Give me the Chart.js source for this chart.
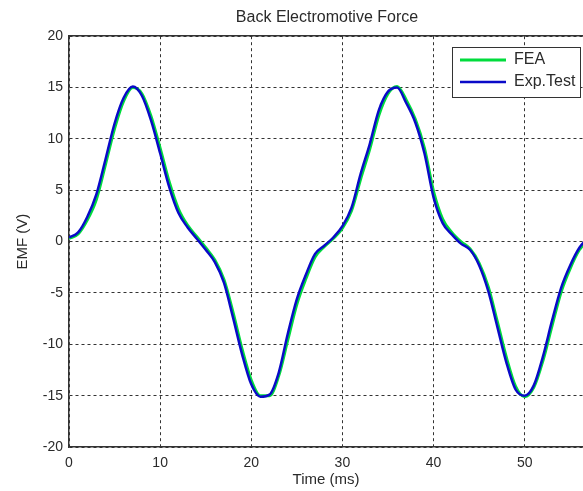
<!DOCTYPE html>
<html>
<head>
<meta charset="utf-8">
<script src="https://cdn.jsdelivr.net/npm/chart.js@4/dist/chart.umd.min.js"></script>
<style>
  html, body { margin: 0; padding: 0; background: #fff; }
  #wrap { width: 583px; height: 491px; }
</style>
</head>
<body>
<div id="wrap"><canvas id="emf-chart"></canvas></div>
<script>
// time axis (ms) and the two traces
const time = [0, 1, 2, 3, 4, 5, 6, 7, 8, 9, 10, 11, 12, 13, 14, 15, 16, 17, 18, 19,
  20, 21, 22, 23, 24, 25, 26, 27, 28, 29, 30, 31, 32, 33, 34, 35, 36, 37, 38, 39,
  40, 41, 42, 43, 44, 45, 46, 47, 48, 49, 50, 51, 52, 53, 54, 55, 56, 57];
const expTest = [0.4, 0.9, 2.4, 4.6, 8.0, 11.5, 14.0, 15.1, 14.2, 11.8, 8.6, 5.3, 2.8, 1.4, 0.3, -0.8, -2.0, -4.0, -7.4, -11.0,
  -13.9, -15.1, -14.9, -12.8, -9.0, -5.6, -3.2, -1.2, -0.4, 0.4, 1.5, 3.3, 6.6, 9.5, 12.8, 14.6, 15.0, 13.5, 11.6, 8.6,
  4.3, 1.8, 0.7, -0.2, -0.8, -2.3, -4.8, -8.3, -11.8, -14.4, -15.0, -14.0, -11.2, -7.7, -4.5, -2.3, -0.6, 0.4];
const fea = [0.3, 0.75, 2.1, 4.1, 7.5, 11.0, 13.7, 15.0, 14.4, 12.2, 9.1, 5.8, 3.2, 1.6, 0.5, -0.6, -1.8, -3.7, -6.9, -10.5,
  -13.5, -15.0, -15.0, -13.1, -9.6, -6.1, -3.6, -1.5, -0.5, 0.3, 1.3, 3.0, 6.1, 9.0, 12.3, 14.4, 15.1, 13.8, 11.9, 9.1,
  4.9, 2.2, 0.9, 0.0, -0.7, -2.1, -4.4, -7.8, -11.3, -14.1, -15.1, -14.2, -11.6, -8.2, -4.9, -2.6, -0.8, 0.2];
const seriesNames = ['FEA', 'Exp.Test'];
const xTicks = [0, 10, 20, 30, 40, 50];
const yTicks = [-20, -15, -10, -5, 0, 5, 10, 15, 20];

const FONT = "'Liberation Sans', Arial, sans-serif";
const TXT = '#2a2a2a';

function points(vals) {
  return time.map((t, i) => ({ x: t, y: vals[i] }));
}

// legend in the upper right corner with a white box, title centred over the axes
const legendBox = {
  id: 'legendBox',
  afterLayout(chart) {
    const tb = chart.titleBlock;
    if (tb) { tb.left = chart.chartArea.left; tb.right = 585; }
    const lg = chart.legend;
    if (!lg) return;
    lg.left = 454; lg.top = 46;
    lg.right = 583; lg.bottom = chart.chartArea.bottom;
    lg.width = lg.right - lg.left; lg.height = lg.bottom - lg.top;
    if (!lg._boxed) {
      const orig = lg.draw;
      lg.draw = function() {
        const ctx = chart.ctx;
        ctx.save();
        ctx.fillStyle = '#fff';
        ctx.fillRect(452.5, 47.5, 128, 50);
        ctx.strokeStyle = '#333';
        ctx.lineWidth = 1;
        ctx.strokeRect(452.5, 47.5, 128, 50);
        ctx.restore();
        orig.call(this);
      };
      lg._boxed = true;
    }
  }
};

const ctx = document.getElementById('emf-chart').getContext('2d');
new Chart(ctx, {
  type: 'line',
  data: {
    datasets: [
      {
        label: seriesNames[0],
        data: points(fea),
        borderColor: '#00dc3c',
        backgroundColor: '#00dc3c',
        borderWidth: 3,
        pointRadius: 0,
        cubicInterpolationMode: 'monotone',
        order: 2
      },
      {
        label: seriesNames[1],
        data: points(expTest),
        borderColor: '#0a0ac8',
        backgroundColor: '#0a0ac8',
        borderWidth: 2.5,
        pointRadius: 0,
        cubicInterpolationMode: 'monotone',
        order: 1
      }
    ]
  },
  options: {
    responsive: true,
    maintainAspectRatio: false,
    animation: false,
    layout: { padding: { left: 0, right: 0, top: 0, bottom: 2 } },
    plugins: {
      title: {
        display: true,
        text: 'Back Electromotive Force',
        color: TXT,
        font: { family: FONT, size: 16, weight: 'normal' },
        padding: { top: 8, bottom: 9 }
      },
      legend: {
        position: 'chartArea',
        align: 'start',
        labels: {
          color: TXT,
          font: { family: FONT, size: 16 },
          usePointStyle: true,
          pointStyle: 'line',
          pointStyleWidth: 46,
          boxHeight: 14,
          padding: 6,
          sort: (a, b) => a.datasetIndex - b.datasetIndex
        }
      },
      tooltip: { enabled: false }
    },
    scales: {
      x: {
        type: 'linear',
        min: 0,
        max: 56.4,
        afterBuildTicks: (s) => { s.ticks = xTicks.map(v => ({ value: v })); },
        ticks: { color: TXT, font: { family: FONT, size: 14 }, padding: 8, maxRotation: 0 },
        grid: { color: '#333', lineWidth: 1, drawTicks: false },
        border: { display: true, color: '#333', width: 1.5, dash: [3, 3] },
        title: {
          display: true, text: 'Time (ms)', color: TXT,
          font: { family: FONT, size: 15 }, padding: { top: 1, bottom: 0 }
        },
        afterFit: (s) => { s.height = 42; }
      },
      xTop: {
        type: 'linear',
        position: 'top',
        min: 0,
        max: 56.4,
        ticks: { display: false },
        grid: { display: false, drawTicks: false },
        border: { display: true, color: '#333', width: 1.5 },
        afterFit: (s) => { s.height = 0; }
      },
      y: {
        min: -20,
        max: 20,
        afterBuildTicks: (s) => { s.ticks = yTicks.map(v => ({ value: v })); },
        ticks: { color: TXT, font: { family: FONT, size: 14 }, padding: 6 },
        grid: { color: '#333', lineWidth: 1, drawTicks: false },
        border: { display: true, color: '#333', width: 1.5, dash: [3, 3] },
        title: {
          display: true, text: 'EMF (V)', color: TXT,
          font: { family: FONT, size: 15 }, padding: { top: 14, bottom: 4 }
        },
        afterFit: (s) => { s.width = 69; }
      }
    }
  },
  plugins: [legendBox]
});
</script>
</body>
</html>
